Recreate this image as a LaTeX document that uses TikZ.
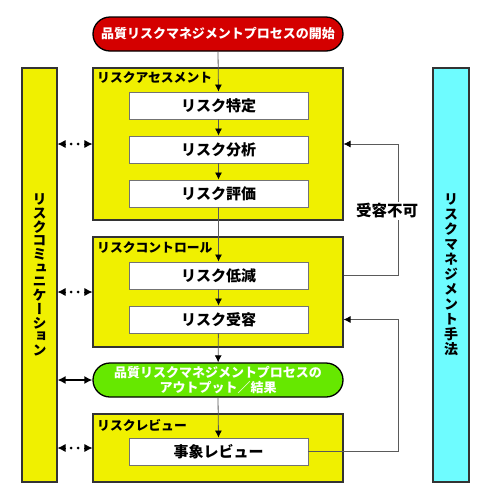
\documentclass[tikz,border=0pt]{standalone}
\usepackage{fontspec}
\setmainfont{Noto Sans CJK JP}
\newfontfamily\jpv[RawFeature=+vert]{Noto Sans CJK JP}
\usetikzlibrary{arrows.meta,calc}
\definecolor{boxyellow}{RGB}{240,240,0}
\definecolor{barcyan}{RGB}{110,252,255}
\definecolor{startred}{RGB}{212,0,0}
\definecolor{outgreen}{RGB}{102,232,0}
\definecolor{linegray}{RGB}{90,90,90}
\tikzset{
  stage/.style={draw=black!80, line width=1.1pt, fill=boxyellow, minimum width=250pt, inner sep=0pt},
  bar/.style={draw=black!80, line width=1.1pt, inner sep=0pt, minimum width=35pt, minimum height=414pt},
  stepbox/.style={draw=black!55, line width=0.9pt, fill=white, minimum width=179pt, minimum height=27pt, inner sep=0pt, font=\fontsize{15}{17}\selectfont\bfseries},
  pill/.style={draw=black, line width=1.3pt, rounded corners=17pt, minimum width=250pt, minimum height=34pt, inner sep=0pt, text=white, align=center, font=\fontsize{13}{15}\selectfont\bfseries},
  stagelabel/.style={anchor=west, inner sep=0pt, font=\fontsize{12.8}{14}\selectfont\bfseries},
  flow/.style={draw=linegray, line width=0.8pt, -{Latex[length=7pt,width=7pt,black]}},
  plain/.style={draw=linegray, line width=0.8pt},
  tipL/.style={-{Latex[length=8pt,width=8pt]}, line width=0.8pt, black},
  dotc/.style={circle, fill=black, inner sep=0pt, minimum size=3pt},
  vtext/.style={align=center, inner sep=0pt, font=\jpv\fontsize{14}{14}\selectfont\bfseries},
}
\begin{document}
\begin{tikzpicture}[x=1pt,y=-1pt]
\useasboundingbox (0,0) rectangle (488,496);
% side bars
\node[bar, fill=boxyellow] (comm) at (39.5,275) {};
\node[bar, fill=barcyan, minimum width=36pt] (method) at (451,275) {};
\node[vtext, font=\jpv\fontsize{14}{13.7}\selectfont\bfseries] (commtext) at (39.5,275) {リ\\ス\\ク\\コ\\ミ\\ュ\\ニ\\ケ\\ー\\シ\\ョ\\ン};
\node[vtext, font=\jpv\fontsize{14}{15}\selectfont\bfseries] (methodtext) at (451,275) {リ\\ス\\ク\\マ\\ネ\\ジ\\メ\\ン\\ト\\手\\法};
% stage boxes
\node[stage, minimum height=152pt] (assess) at (218,144) {};
\node[stage, minimum height=110pt] (ctrl) at (218,292) {};
\node[stage, minimum height=68pt] (review) at (218,448) {};
\node[stagelabel] (assesslab) at (97,78) {リスクアセスメント};
\node[stagelabel] (ctrllab) at (97,248) {リスクコントロール};
\node[stagelabel] (reviewlab) at (97,425) {リスクレビュー};
% steps
\node[stepbox] (ident) at (218.5,105.5) {リスク特定};
\node[stepbox] (anal) at (218.5,149.5) {リスク分析};
\node[stepbox] (eval) at (218.5,193.5) {リスク評価};
\node[stepbox] (reduce) at (218.5,275.5) {リスク低減};
\node[stepbox] (accept) at (218.5,319.5) {リスク受容};
\node[stepbox] (event) at (218.5,451.5) {事象レビュー};
% pills
\node[pill, fill=startred] (start) at (218,34) {品質リスクマネジメントプロセスの開始};
\node[pill, fill=outgreen, font=\fontsize{13}{15}\selectfont\bfseries] (output) at (218,380) {品質リスクマネジメントプロセスの\\アウトプット／結果};
% main flow
\draw[flow] (start.south) -- (ident.north);
\draw[flow] (ident) -- (anal);
\draw[flow] (anal) -- (eval);
\draw[flow] (eval.south) -- (reduce.north);
\draw[flow] (reduce) -- (accept);
\draw[flow] (accept) -- (output);
\draw[flow] (output.south) -- (event.north);
% feedback loops
\coordinate (fbx) at (398,0);
\draw[flow] (ctrl.east |- reduce) -- (fbx |- reduce) -- (fbx |- assess.east) -- (assess.east);
\draw[flow] (event.east) -- (fbx |- event) -- (fbx |- accept) -- (ctrl.east |- accept);
\node[fill=white, inner sep=2pt, font=\fontsize{15.5}{17}\selectfont\bfseries] (nogo) at (387,211) {受容不可};
% communication arrows
\foreach \t in {assess, ctrl, review} {
  \draw[tipL] ($(comm.east |- \t.west)!8pt!(\t.west)$) -- (comm.east |- \t.west);
  \draw[tipL] ($(\t.west)!8pt!(comm.east |- \t.west)$) -- (\t.west);
  \path (comm.east |- \t.west) -- (\t.west) node[dotc, pos=0.39] {} node[dotc, pos=0.59] {};
}
\draw[{Latex[length=8pt,width=8pt]}-{Latex[length=8pt,width=8pt]}, line width=1.4pt] (comm.east |- output.west) -- (output.west);
\end{tikzpicture}
\end{document}
